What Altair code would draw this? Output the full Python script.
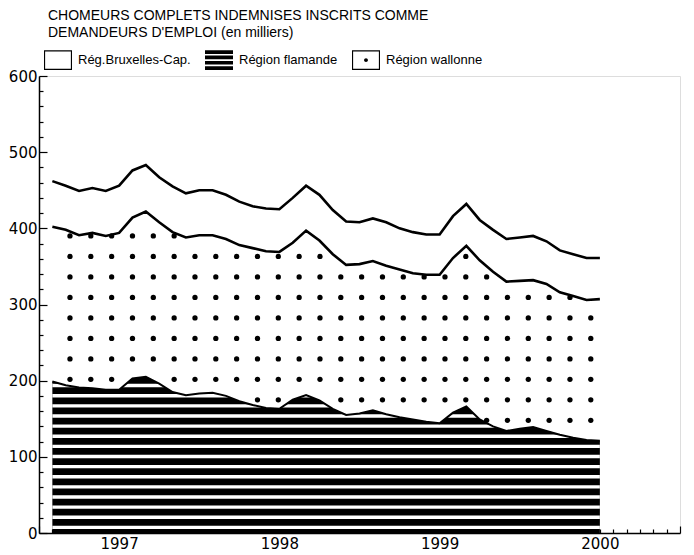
import altair as alt
import numpy as np
import pandas as pd

# ---------------- data (thousands) ----------------
mois = ["1996-08", "1996-09", "1996-10", "1996-11", "1996-12",
        "1997-01", "1997-02", "1997-03", "1997-04", "1997-05", "1997-06",
        "1997-07", "1997-08", "1997-09", "1997-10", "1997-11", "1997-12",
        "1998-01", "1998-02", "1998-03", "1998-04", "1998-05", "1998-06",
        "1998-07", "1998-08", "1998-09", "1998-10", "1998-11", "1998-12",
        "1999-01", "1999-02", "1999-03", "1999-04", "1999-05", "1999-06",
        "1999-07", "1999-08", "1999-09", "1999-10", "1999-11", "1999-12",
        "2000-01"]

flamande = [199, 194, 191, 190, 188, 188, 203, 205, 196, 185, 181, 183, 184, 180,
            173, 168, 164, 163, 175, 181, 174, 163, 155, 157, 161, 156, 152, 149,
            146, 144, 158, 166, 149, 140, 134, 137, 139, 134, 129, 125, 122, 121]

wallonne = [203, 204, 200, 204, 202, 206, 211, 217, 212, 210, 207, 208, 207, 206,
            205, 206, 206, 206, 206, 216, 210, 203, 197, 196, 196, 195, 194, 192,
            193, 195, 203, 211, 209, 203, 196, 194, 193, 193, 187, 186, 184, 186]

bruxelles = [60, 58, 58, 59, 59, 62, 62, 61, 59, 60, 58, 59, 59, 58,
             57, 55, 56, 56, 59, 59, 60, 58, 57, 55, 56, 57, 54, 54,
             53, 53, 55, 55, 53, 55, 56, 57, 58, 56, 55, 55, 55, 54]

titre = ["CHOMEURS COMPLETS INDEMNISES INSCRITS COMME",
         "DEMANDEURS D'EMPLOI (en milliers)"]
regions = ["Rég.Bruxelles-Cap.", "Région flamande", "Région wallonne"]

# ---------------- derived table ----------------
# month index: 0 = July 1996 (left end of the time axis), 48 = July 2000
k = np.array([(int(m[:4]) - 1996) * 12 + (int(m[5:]) - 7) for m in mois], dtype=float)
F = np.array(flamande, dtype=float)
M = F + np.array(wallonne, dtype=float)
T = M + np.array(bruxelles, dtype=float)

df = pd.DataFrame({"k": k, "F": F, "M": M, "T": T})
lines = pd.concat([
    pd.DataFrame({"k": k, "v": M, "s": "M"}),
    pd.DataFrame({"k": k, "v": T, "s": "T"}),
])

# ---------------- fill patterns (style) ----------------
# horizontal stripes of the Flemish area: white gaps over a black area
pitch, first_gap = 13.3, 5.1
gap_w = 4.5
n_gaps = int(F.max() / pitch) + 1
gaps = pd.DataFrame({
    "lo": [first_gap + pitch * i for i in range(n_gaps)],
    "hi": [first_gap + gap_w + pitch * i for i in range(n_gaps)],
    "x0": k.min(), "x1": k.max(),
})

# dot grid of the Walloon band
cols = 2.32 + 1.56 * np.arange(26)
rows = 390 - 26.9 * np.arange(-1, 11)
cx, cy = np.meshgrid(cols, rows)
cx, cy = cx.ravel(), cy.ravel()
f_at = np.interp(cx, k, F)
m_at = np.interp(cx, k, M)
keep = (cx >= k.min()) & (cx <= k.max()) & (cy < m_at - 0.5) & (cy > f_at + 2)
dots = pd.DataFrame({"k": cx[keep], "v": cy[keep]})

W, H = 641, 457
xs = alt.Scale(domain=[0, 48], nice=False, zero=False)
ys = alt.Scale(domain=[0, 600], nice=False, zero=True)

ax_x_labels = alt.Axis(
    values=list(range(0, 49)),
    labelExpr="datum.value % 12 == 6 ? '' + (1996 + (datum.value + 6) / 12) : ''",
    ticks=False, tickSize=0, domain=True, domainColor="black", domainWidth=1.5,
    grid=False, title=None, labelFont="DejaVu Sans", labelFontSize=15,
    labelColor="black", labelPadding=3, labelOverlap=False, labelFlush=False,
    labelBound=False)
ax_y_labels = alt.Axis(
    values=list(range(0, 601, 100)), ticks=False, tickSize=0, domain=True,
    domainColor="black", domainWidth=1.5, grid=False, title=None,
    labelFont="DejaVu Sans", labelFontSize=15, labelColor="black",
    labelPadding=2, labelOverlap=False, labelFlush=False)
ax_x_ticks = alt.Axis(
    orient="top", offset=-H, values=list(range(0, 49)), labels=False,
    domain=False, ticks=True, tickColor="black", tickWidth=1.2,
    tickSize={"condition": {"test": "datum.value % 12 == 0", "value": 7}, "value": 4},
    grid=False, title=None)
ax_y_ticks = alt.Axis(
    orient="right", offset=-W, values=list(range(0, 601, 20)), labels=False,
    domain=False, ticks=True, tickColor="black", tickWidth=1.2,
    tickSize={"condition": {"test": "datum.value % 100 == 0", "value": 8}, "value": 4},
    grid=False, title=None)

area_f = alt.Chart(df).mark_area(color="black", opacity=1).encode(
    x=alt.X("k:Q", scale=xs, axis=ax_x_labels),
    y=alt.Y("F:Q", scale=ys, axis=ax_y_labels),
    y2=alt.Y2(datum=0),
)

gap_layer = alt.Chart(gaps).mark_rect(color="white", opacity=1).encode(
    x=alt.X("x0:Q", scale=xs, axis=None),
    x2="x1:Q",
    y=alt.Y("lo:Q", scale=ys, axis=None),
    y2="hi:Q",
)

dot_layer = alt.Chart(dots).mark_circle(color="black", size=28, opacity=1).encode(
    x=alt.X("k:Q", scale=xs, axis=None),
    y=alt.Y("v:Q", scale=ys, axis=None),
)

line_f = alt.Chart(df).mark_line(color="black", strokeWidth=2).encode(
    x=alt.X("k:Q", scale=xs, axis=None),
    y=alt.Y("F:Q", scale=ys, axis=None),
)

line_mt = alt.Chart(lines).mark_line(color="black", strokeWidth=2.6).encode(
    x=alt.X("k:Q", scale=xs, axis=ax_x_ticks),
    y=alt.Y("v:Q", scale=ys, axis=ax_y_ticks),
    detail="s:N",
)

p_frame = "M-1,-0.7H1V0.7H-1Z M-0.92,-0.62V0.62H0.92V-0.62Z"
p_stripes = ("M-1,-0.7H1V-0.44H-1Z M-1,-0.32H1V-0.06H-1Z "
             "M-1,0.06H1V0.32H-1Z M-1,0.44H1V0.7H-1Z")
p_dot = p_frame + " M-0.14,0A0.14,0.14 0 1,0 0.14,0A0.14,0.14 0 1,0 -0.14,0Z"

leg_df = pd.DataFrame({"region": regions})
legend_layer = alt.Chart(leg_df).mark_point(filled=True, color="black", size=0).encode(
    x=alt.value(0), y=alt.value(0),
    shape=alt.Shape(
        "region:N",
        scale=alt.Scale(domain=regions, range=[p_frame, p_stripes, p_dot]),
        legend=alt.Legend(
            orient="none", legendX=5, legendY=-30, direction="horizontal",
            columns=3, title=None, symbolSize=784, symbolFillColor="black",
            symbolStrokeWidth=0, symbolOpacity=1, labelFont="Liberation Sans",
            labelFontSize=13, labelColor="black", labelOffset=6,
            columnPadding=14, padding=0, labelLimit=300),
    ),
)

chart = alt.layer(
    area_f, gap_layer, dot_layer, line_f, line_mt, legend_layer
).resolve_axis(
    x="independent", y="independent"
).properties(
    width=W, height=H,
    padding={"left": 0, "right": 2, "top": 1, "bottom": 0},
    title=alt.Title(titre, anchor="start", frame="group", font="Liberation Sans",
                    fontSize=14, fontWeight="normal", color="black",
                    lineHeight=17, dx=9, offset=6),
).configure_view(stroke=None).configure(background="white")

chart.save("out.html", embed_options={"renderer": "svg", "actions": False})
